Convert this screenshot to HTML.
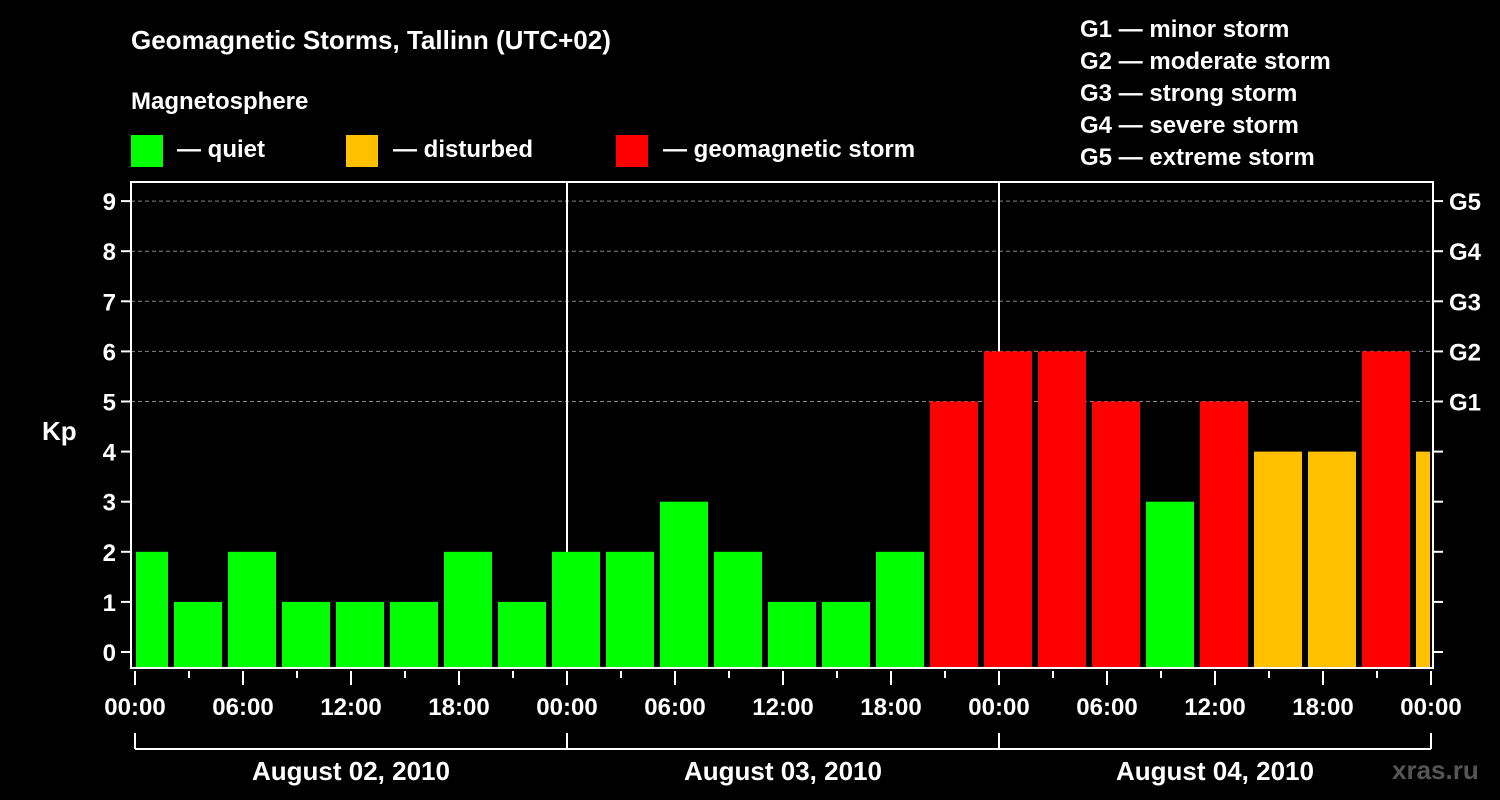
<!DOCTYPE html>
<html><head><meta charset="utf-8"><style>
body{margin:0;background:#000;}
svg{display:block;font-family:"Liberation Sans",Arial,sans-serif;font-weight:bold;}
</style></head><body>
<svg width="1500" height="800" viewBox="0 0 1500 800">
<rect width="1500" height="800" fill="#000"/>
<text x="131" y="49" fill="#fff" font-size="26">Geomagnetic Storms, Tallinn (UTC+02)</text>
<text x="131" y="109" fill="#fff" font-size="24">Magnetosphere</text>
<g><rect x="131" y="135" width="32" height="32" fill="#00ff00"/><text x="177" y="157" fill="#fff" font-size="24">— quiet</text></g>
<g><rect x="346" y="135" width="32" height="32" fill="#ffc000"/><text x="393" y="157" fill="#fff" font-size="24">— disturbed</text></g>
<g><rect x="616" y="135" width="32" height="32" fill="#ff0000"/><text x="663" y="157" fill="#fff" font-size="24">— geomagnetic storm</text></g>
<g fill="#fff" font-size="24">
<text x="1080" y="37">G1 — minor storm</text>
<text x="1080" y="69">G2 — moderate storm</text>
<text x="1080" y="101">G3 — strong storm</text>
<text x="1080" y="133">G4 — severe storm</text>
<text x="1080" y="165">G5 — extreme storm</text>
</g>
<g id="grid"></g>
<g id="bars"></g>
<g id="axes"></g>
<text x="42" y="440" fill="#fff" font-size="26">Kp</text>
<text x="1392" y="779" fill="#555" font-size="26">xras.ru</text>
</svg>
<script>
const startHours=[-1,2,5,8,11,14,17,20,23,26,29,32,35,38,41,44,47,50,53,56,59,62,65,68,71];
const kpValues=[2,1,2,1,1,1,2,1,2,2,3,2,1,1,2,5,6,6,5,3,5,4,4,6,4];
const yTicks=[0,1,2,3,4,5,6,7,8,9];
const gLabels=["G1","G2","G3","G4","G5"];
const gLevels=[5,6,7,8,9];
const xLabels=["00:00","06:00","12:00","18:00","00:00","06:00","12:00","18:00","00:00","06:00","12:00","18:00","00:00"];
const dayLabels=["August 02, 2010","August 03, 2010","August 04, 2010"];
const NS="http://www.w3.org/2000/svg";
const X0=135,PXH=18,L=131,R=1433,T=182,B=668;
const xs=h=>X0+h*PXH;
const ys=v=>652-v*50.1;
function mk(tag,attrs,parent,text){const e=document.createElementNS(NS,tag);for(const k in attrs)e.setAttribute(k,attrs[k]);if(text!==undefined)e.textContent=text;document.getElementById(parent).appendChild(e);return e;}
function color(v){return v>=5?"#ff0000":v>=4?"#ffc000":"#00ff00";}
gLevels.forEach(v=>{const e=mk("line",{x1:L,x2:R,y1:ys(v),y2:ys(v),stroke:"#888","stroke-dasharray":"4,3","stroke-width":1},"grid");

});
[24,48].forEach(h=>{const e=mk("line",{x1:xs(h),x2:xs(h),y1:T,y2:B,stroke:"#fff","stroke-width":2},"grid");

});
startHours.forEach((h,i)=>{let x1=Math.max(xs(h)+3,X0+1),x2=Math.min(xs(h+3)-3,R-3);const v=kpValues[i];
const e=mk("rect",{x:x1,y:ys(v),width:x2-x1,height:B-1-ys(v),fill:color(v)},"bars");

});
mk("rect",{x:L,y:T,width:R-L,height:B-T,fill:"none",stroke:"#fff","stroke-width":2},"axes");
yTicks.forEach(v=>{mk("line",{x1:121,x2:L,y1:ys(v),y2:ys(v),stroke:"#fff","stroke-width":2},"axes");
mk("line",{x1:R,x2:R+10,y1:ys(v),y2:ys(v),stroke:"#fff","stroke-width":2},"axes");
const t=mk("text",{x:116,y:ys(v)+9,fill:"#fff","font-size":24,"text-anchor":"end"},"axes",v);

});
gLabels.forEach((g,i)=>{const t=mk("text",{x:1449,y:ys(gLevels[i])+9,fill:"#fff","font-size":24},"axes",g);

});
for(let h=0;h<=72;h+=3){mk("line",{x1:xs(h),x2:xs(h),y1:B+3,y2:h%6==0?B+17:B+10,stroke:"#fff","stroke-width":2},"axes");}
xLabels.forEach((s,i)=>{const t=mk("text",{x:xs(i*6),y:715,fill:"#fff","font-size":24,"text-anchor":"middle"},"axes",s);

});
mk("line",{x1:X0,x2:xs(72),y1:749,y2:749,stroke:"#fff","stroke-width":2},"axes");
[0,24,48,72].forEach(h=>mk("line",{x1:xs(h),x2:xs(h),y1:733,y2:749,stroke:"#fff","stroke-width":2},"axes"));
dayLabels.forEach((s,i)=>{const t=mk("text",{x:xs(i*24+12),y:780,fill:"#fff","font-size":26,"text-anchor":"middle"},"axes",s);

});
</script>
</body></html>
